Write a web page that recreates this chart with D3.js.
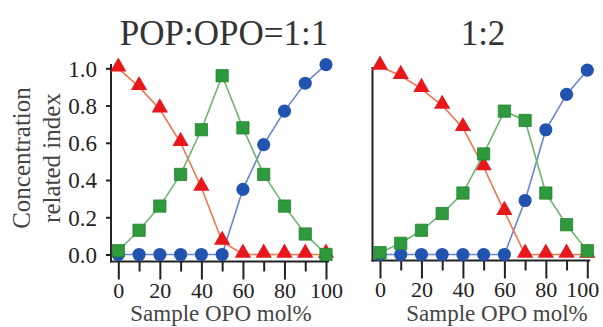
<!DOCTYPE html>
<html>
<head>
<meta charset="utf-8">
<script src="https://cdn.jsdelivr.net/npm/d3@7"></script>
<style>
  html, body { margin: 0; padding: 0; background: #fff; }
  svg { display: block; }
  text { font-family: "Liberation Serif", "Times New Roman", Times, serif; }
</style>
</head>
<body>
<svg id="chart" width="603" height="327"></svg>
<script>
// Sample composition (OPO mol%)
const xValues = [0, 10, 20, 30, 40, 50, 60, 70, 80, 90, 100];

// POP:OPO = 1:1
const pop11   = [1.00, 0.90, 0.78, 0.60, 0.36, 0.07, 0.00, 0.00, 0.00, 0.00, 0.00];
const mix11   = [0.02, 0.13, 0.26, 0.43, 0.67, 0.96, 0.68, 0.43, 0.26, 0.11, 0.00];
const opo11   = [0.00, 0.00, 0.00, 0.00, 0.00, 0.00, 0.35, 0.59, 0.77, 0.92, 1.02];

// POP:OPO = 1:2
const pop12   = [1.01, 0.96, 0.89, 0.80, 0.68, 0.47, 0.23, 0.00, 0.00, 0.00, 0.00];
const mix12   = [0.01, 0.06, 0.13, 0.22, 0.33, 0.54, 0.77, 0.72, 0.33, 0.16, 0.02];
const opo12   = [0.00, 0.00, 0.00, 0.00, 0.00, 0.00, 0.00, 0.29, 0.67, 0.86, 0.99];

const yTicks = [0, 0.2, 0.4, 0.6, 0.8, 1.0];
const xMajorTicks = [0, 20, 40, 60, 80, 100];
const xMinorTicks = [10, 30, 50, 70, 90];

const panelTitles = ["POP:OPO=1:1", "1:2"];
const xAxisTitle = "Sample OPO mol%";
const yAxisTitle = ["Concentration", "related index"];

const svg = d3.select("#chart");
const FONT = "'Liberation Serif', 'Times New Roman', Times, serif";

const styles = {
  pop: { line: "#f2734f", fill: "#e8171c", shape: "triangle" },
  mix: { line: "#6cb86c", fill: "#2f9a3d", stroke: "#25802f", shape: "square" },
  opo: { line: "#6686d4", fill: "#2253ae", shape: "circle" }
};

const panels = [
  { title: panelTitles[0], titleX: 224, x0: 118.3, x1: 326, axisX: 111, axisY: 261.5,
    xTitleX: 221, lastLabelShift: 0, showYLabels: true,
    data: { pop: pop11, mix: mix11, opo: opo11 } },
  { title: panelTitles[1], titleX: 483, x0: 380, x1: 587.3, axisX: 372.5, axisY: 260.5,
    xTitleX: 497, lastLabelShift: -5, showYLabels: false,
    data: { pop: pop12, mix: mix12, opo: opo12 } }
];

const yScale = d3.scaleLinear().domain([0, 1]).range([254.5, 68.3]);

const symbols = {
  triangle: d3.symbol().type(d3.symbolTriangle).size(115),
  square: d3.symbol().type(d3.symbolSquare).size(150),
  circle: d3.symbol().type(d3.symbolCircle).size(135)
};

panels.forEach(p => {
  const g = svg.append("g");
  const xScale = d3.scaleLinear().domain([0, 100]).range([p.x0, p.x1]);

  // Title
  g.append("text")
    .attr("x", p.titleX)
    .attr("y", 45)
    .attr("text-anchor", "middle")
    .attr("font-size", 35)
    .attr("fill", "#333")
    .text(p.title);

  // Y axis
  const yAxisG = g.append("g").attr("transform", `translate(${p.axisX},0)`);
  if (p.showYLabels) {
    const yAxis = d3.axisLeft(yScale).tickValues(yTicks)
      .tickFormat(d3.format(".1f")).tickSize(5).tickPadding(9);
    yAxisG.call(yAxis);
    yAxisG.select(".domain").remove();
    yAxisG.selectAll(".tick line").attr("stroke", "#222").attr("stroke-width", 2);
    yAxisG.selectAll(".tick text")
      .attr("font-family", FONT)
      .attr("font-size", 23).attr("fill", "#222").attr("dy", "0.34em");
  }
  yAxisG.append("line")
    .attr("x1", 0).attr("x2", 0)
    .attr("y1", p.showYLabels ? 64 : 67).attr("y2", p.axisY + 1)
    .attr("stroke", "#222").attr("stroke-width", 2);

  // X axis
  const xAxisG = g.append("g").attr("transform", `translate(0,${p.axisY})`);
  xAxisG.append("line")
    .attr("x1", p.axisX - 1).attr("x2", p.x1 + 3)
    .attr("y1", 0).attr("y2", 0)
    .attr("stroke", "#222").attr("stroke-width", 2);
  const xMajor = d3.axisBottom(xScale).tickValues(xMajorTicks)
    .tickSize(18).tickPadding(3).tickFormat(d3.format("d"));
  const majG = xAxisG.append("g").call(xMajor);
  majG.select(".domain").remove();
  majG.selectAll(".tick line").attr("stroke", "#222").attr("stroke-width", 2);
  majG.selectAll(".tick text")
    .attr("font-family", FONT)
    .attr("font-size", 22).attr("fill", "#222")
    .attr("dx", d => d === 100 ? p.lastLabelShift : 0);
  const xMinor = d3.axisBottom(xScale).tickValues(xMinorTicks)
    .tickSize(10).tickFormat("");
  const minG = xAxisG.append("g").call(xMinor);
  minG.select(".domain").remove();
  minG.selectAll(".tick line").attr("stroke", "#222").attr("stroke-width", 2);

  // X axis title
  g.append("text")
    .attr("x", p.xTitleX)
    .attr("y", 321)
    .attr("text-anchor", "middle")
    .attr("font-size", 23)
    .attr("fill", "#444")
    .text(xAxisTitle);

  // Series: blue, red, then green on top
  ["opo", "pop", "mix"].forEach(key => {
    const st = styles[key];
    const vals = p.data[key];
    const pts = xValues.map((x, i) => [x, vals[i]]);
    const line = d3.line().x(d => xScale(d[0])).y(d => yScale(d[1]));
    g.append("path")
      .datum(pts)
      .attr("d", line)
      .attr("fill", "none")
      .attr("stroke", st.line)
      .attr("stroke-width", 1.6);
    g.selectAll(null)
      .data(pts)
      .enter()
      .append("path")
      .attr("d", symbols[st.shape])
      .attr("transform", d => {
        const dy = st.shape === "triangle" ? -1.5 : 0;
        return `translate(${xScale(d[0])},${yScale(d[1]) + dy})`;
      })
      .attr("fill", st.fill)
      .attr("stroke", st.stroke || "none")
      .attr("stroke-width", st.stroke ? 0.8 : 0);
  });
});

// Y axis title (two lines, rotated)
const yTitle = svg.append("text")
  .attr("transform", "translate(0,158) rotate(-90)")
  .attr("text-anchor", "middle")
  .attr("font-size", 25)
  .attr("fill", "#444");
yTitle.append("tspan").attr("x", 0).attr("y", 30).text(yAxisTitle[0]);
yTitle.append("tspan").attr("x", 0).attr("y", 60).text(yAxisTitle[1]);
</script>
</body>
</html>
